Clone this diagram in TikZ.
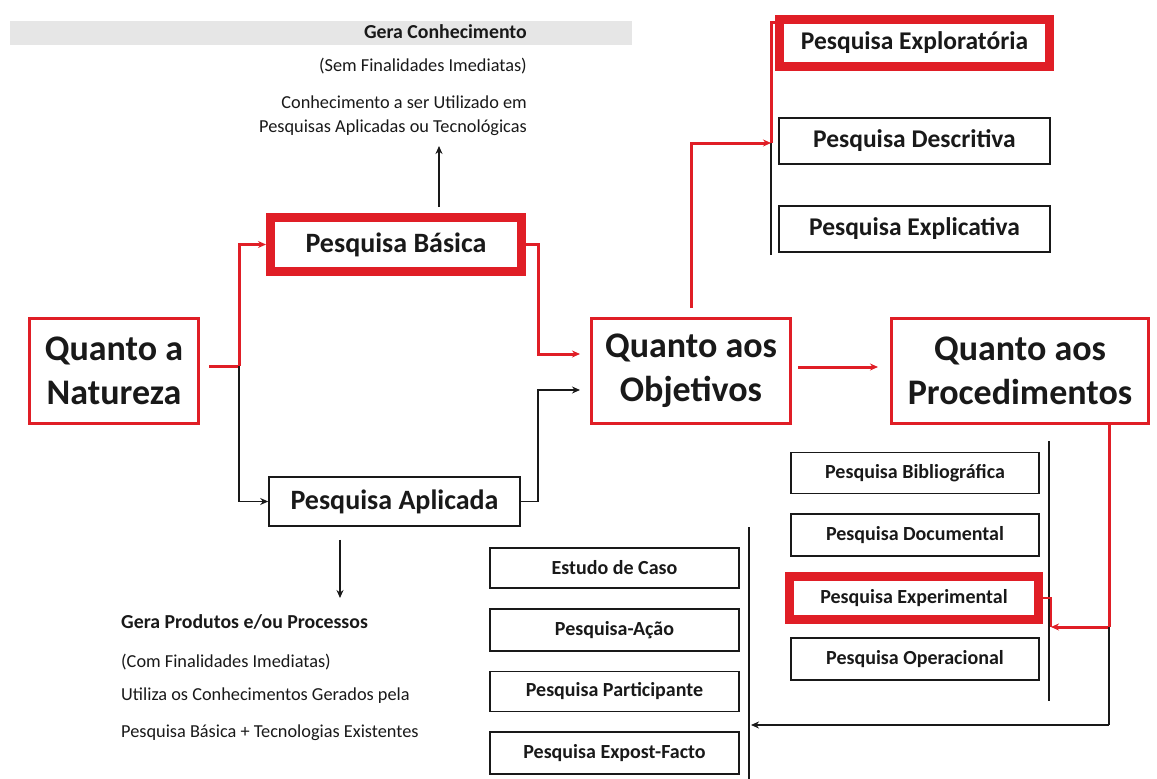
\documentclass[tikz,border=0pt]{standalone}
\usepackage{fontspec}
\setmainfont{Carlito}
\usetikzlibrary{arrows.meta}
\definecolor{mred}{RGB}{224,30,38}
\definecolor{ink}{RGB}{25,25,25}
\definecolor{band}{RGB}{230,230,230}
\begin{document}
\begin{tikzpicture}[x=1pt,y=-1pt,
  bigbox/.style={draw=mred,line width=3pt,fill=white,minimum height=105pt,inner sep=0pt,align=center,text=ink,font=\fontsize{36}{44}\selectfont\bfseries},
  hibox/.style={draw=mred,line width=9pt,fill=white,inner sep=0pt,text=ink},
  plainbox/.style={draw=ink,line width=1.6pt,fill=white,inner sep=0pt,text=ink},
  fA/.style={font=\fontsize{28}{30}\selectfont\bfseries},
  fB/.style={font=\fontsize{25.5}{28}\selectfont\bfseries},
  fC/.style={font=\fontsize{20}{22}\selectfont\bfseries},
  smalltxt/.style={inner sep=0pt,text=ink,font=\fontsize{18.3}{24}\selectfont},
  boldtxt/.style={inner sep=0pt,text=ink,font=\fontsize{19.8}{24}\selectfont\bfseries},
  redc/.style={draw=mred,line width=3pt},
  redthin/.style={draw=mred,line width=2pt},
  blkc/.style={draw=ink,line width=1.5pt},
  arr/.style={-{Stealth[length=8pt,width=7pt]}}
]
\useasboundingbox (0,0) rectangle (1157,779);
\fill[white] (0,0) rectangle (1157,779);

% top texts
\fill[band] (10,21) rectangle (632,45);
\node[boldtxt,anchor=east] (gc) at (527,32) {Gera Conhecimento};
\node[smalltxt,anchor=east] (sf) at (527,66) {(Sem Finalidades Imediatas)};
\node[smalltxt,anchor=east,align=right] (cu) at (527,116) {Conhecimento a ser Utilizado em\\Pesquisas Aplicadas ou Tecnológicas};

% main boxes
\node[bigbox,minimum width=169pt] (nat) at (114,371) {Quanto a\\Natureza};
\node[bigbox,minimum width=199pt] (obj) at (691,371) {Quanto aos\\Objetivos};
\node[bigbox,minimum width=257pt] (proc) at (1020,371) {Quanto aos\\Procedimentos};

\node[hibox,fA,minimum width=251pt,minimum height=54pt] (bas) at (396,244.5) {Pesquisa Básica};
\node[plainbox,fA,minimum width=251pt,minimum height=49pt] (apl) at (394.5,501.5) {Pesquisa Aplicada};

% objectives
\node[hibox,fB,minimum width=270pt,minimum height=47pt] (expl) at (914.5,43) {Pesquisa Exploratória};
\node[plainbox,fB,minimum width=271pt,minimum height=46pt] (desc) at (914.5,141) {Pesquisa Descritiva};
\node[plainbox,fB,minimum width=271pt,minimum height=46pt] (expc) at (914.5,229) {Pesquisa Explicativa};

% procedures right column
\node[plainbox,fC,minimum width=248pt,minimum height=41pt] (bib) at (915,473) {Pesquisa Bibliográfica};
\node[plainbox,fC,minimum width=248pt,minimum height=42pt] (doc) at (915,535) {Pesquisa Documental};
\node[hibox,fC,minimum width=249pt,minimum height=43pt] (exper) at (914,598) {Pesquisa Experimental};
\node[plainbox,fC,minimum width=248pt,minimum height=42pt] (oper) at (915,659) {Pesquisa Operacional};

% procedures left column
\node[plainbox,fC,minimum width=249pt,minimum height=40pt] (est) at (614.5,568) {Estudo de Caso};
\node[plainbox,fC,minimum width=249pt,minimum height=42pt] (acao) at (614.5,630) {Pesquisa-Ação};
\node[plainbox,fC,minimum width=249pt,minimum height=40pt] (part) at (614.5,691.5) {Pesquisa Participante};
\node[plainbox,fC,minimum width=249pt,minimum height=42pt] (expo) at (614.5,753) {Pesquisa Expost-Facto};

% bottom-left texts
\node[boldtxt,anchor=west] (gp) at (121,622) {Gera Produtos e/ou Processos};
\node[smalltxt,anchor=west] (cf) at (121,662) {(Com Finalidades Imediatas)};
\node[smalltxt,anchor=west] (ut) at (121,696) {Utiliza os Conhecimentos Gerados pela};
\node[smalltxt,anchor=west] (pb) at (121,733) {Pesquisa Básica + Tecnologias Existentes};

% coordinates
\coordinate (j1) at (239,366);
\coordinate (brk1) at (771,143);
\coordinate (brtop) at (771,22);
\coordinate (brbot) at (771,255);
\coordinate (rtop) at (1049,441);
\coordinate (rbot) at (1049,701);
\coordinate (ltop) at (749,527);
\coordinate (lbot) at (749,779);
\coordinate (pj) at (1109,627);
\coordinate (pe) at (1051,627);
\coordinate (pk) at (1109,725);
\coordinate (lb) at (751,725);
\coordinate (uptip) at (439,146);
\coordinate (dntip) at (340,598);

% brackets
\draw[blkc] (brtop) -- (brbot);
\draw[blkc] (rtop) -- (rbot);
\draw[blkc] (ltop) -- (lbot);

% connectors
\draw[redc] ([xshift=9pt,yshift=5pt]nat.east) -- (j1);
\draw[redc,arr] (j1) |- (bas.west);
\draw[blkc,arr] (j1) |- (apl.west);
\draw[redc,arr] (bas.east) -- ++(12,0) |- ([xshift=-10pt,yshift=17pt]obj.west);
\draw[blkc,arr] (apl.east) -- ++(17,0) |- ([xshift=-10pt,yshift=-19pt]obj.west);
\draw[redc,arr] ([xshift=6pt,yshift=4pt]obj.east) -- ([xshift=-12pt,yshift=4pt]proc.west);
\draw[redc,arr] ([yshift=9pt]obj.north) |- (brk1);
\draw[redc] (brk1) |- ([yshift=21pt]expl.west);
\draw[blkc,arr] ([xshift=43pt,yshift=6pt]bas.north) -- (uptip);
\draw[blkc,arr] ([xshift=-54.5pt,yshift=-13pt]apl.south) -- (dntip);
\draw[redc] (proc.south -| pj) -- (pj);
\draw[redc,arr] (pj) -- (pe);
\draw[redthin] (exper.east) -| (pe);
\draw[blkc] (pj) -- (pk);
\draw[blkc,arr] (pk) -- (lb);
\end{tikzpicture}
\end{document}
